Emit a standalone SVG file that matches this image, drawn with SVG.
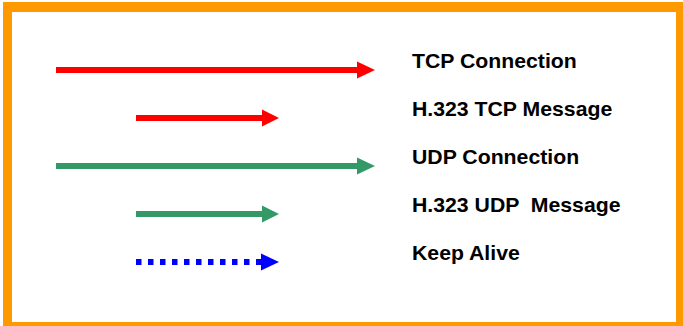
<svg xmlns="http://www.w3.org/2000/svg" width="683" height="326" viewBox="0 0 683 326">
  <style>
    .lbl { font-family: "Liberation Sans", Arial, sans-serif; font-weight: bold; font-size: 19.5px; fill: #000; }
    .red { stroke: #FF0000; fill: none; stroke-width: 6; }
    .green { stroke: #339966; fill: none; stroke-width: 6; }
    .blue { stroke: #0000FF; fill: none; stroke-width: 6; stroke-dasharray: 5.5 6.5; }
  </style>
  <rect x="0" y="0" width="683" height="326" fill="#FFFFFF"/>
  <rect x="3" y="2" width="680" height="324" fill="#FF9900"/>
  <rect x="12" y="12" width="664" height="310" fill="#FFFFFF"/>
  <g id="connectors">
    <g id="tcp-connection-arrow">
      <line class="red" x1="56" y1="70" x2="358" y2="70"/>
      <polygon points="357,61.5 375,70 357,78.5" fill="#FF0000"/>
    </g>
    <g id="h323-tcp-arrow">
      <line class="red" x1="136" y1="118" x2="263" y2="118"/>
      <polygon points="262,109.5 279,118 262,126.5" fill="#FF0000"/>
    </g>
    <g id="udp-connection-arrow">
      <line class="green" x1="56" y1="166" x2="358" y2="166"/>
      <polygon points="357,157.5 375,166 357,174.5" fill="#339966"/>
    </g>
    <g id="h323-udp-arrow">
      <line class="green" x1="136" y1="214" x2="263" y2="214"/>
      <polygon points="262,205.5 279,214 262,222.5" fill="#339966"/>
    </g>
    <g id="keep-alive-arrow">
      <line class="blue" x1="136" y1="262" x2="262" y2="262"/>
      <polygon points="261,253.5 279,262 261,270.5" fill="#0000FF"/>
    </g>
  </g>
  <g id="label-tcp-connection"><text class="lbl" transform="translate(412,68) scale(1.09,1)">TCP Connection</text></g>
  <g id="label-h323-tcp"><text class="lbl" transform="translate(412,116) scale(1.09,1)">H.323 TCP Message</text></g>
  <g id="label-udp-connection"><text class="lbl" transform="translate(412,164) scale(1.09,1)">UDP Connection</text></g>
  <g id="label-h323-udp"><text class="lbl" transform="translate(412,212) scale(1.09,1)" xml:space="preserve">H.323 UDP  Message</text></g>
  <g id="label-keep-alive"><text class="lbl" transform="translate(412,260) scale(1.09,1)">Keep Alive</text></g>
</svg>
